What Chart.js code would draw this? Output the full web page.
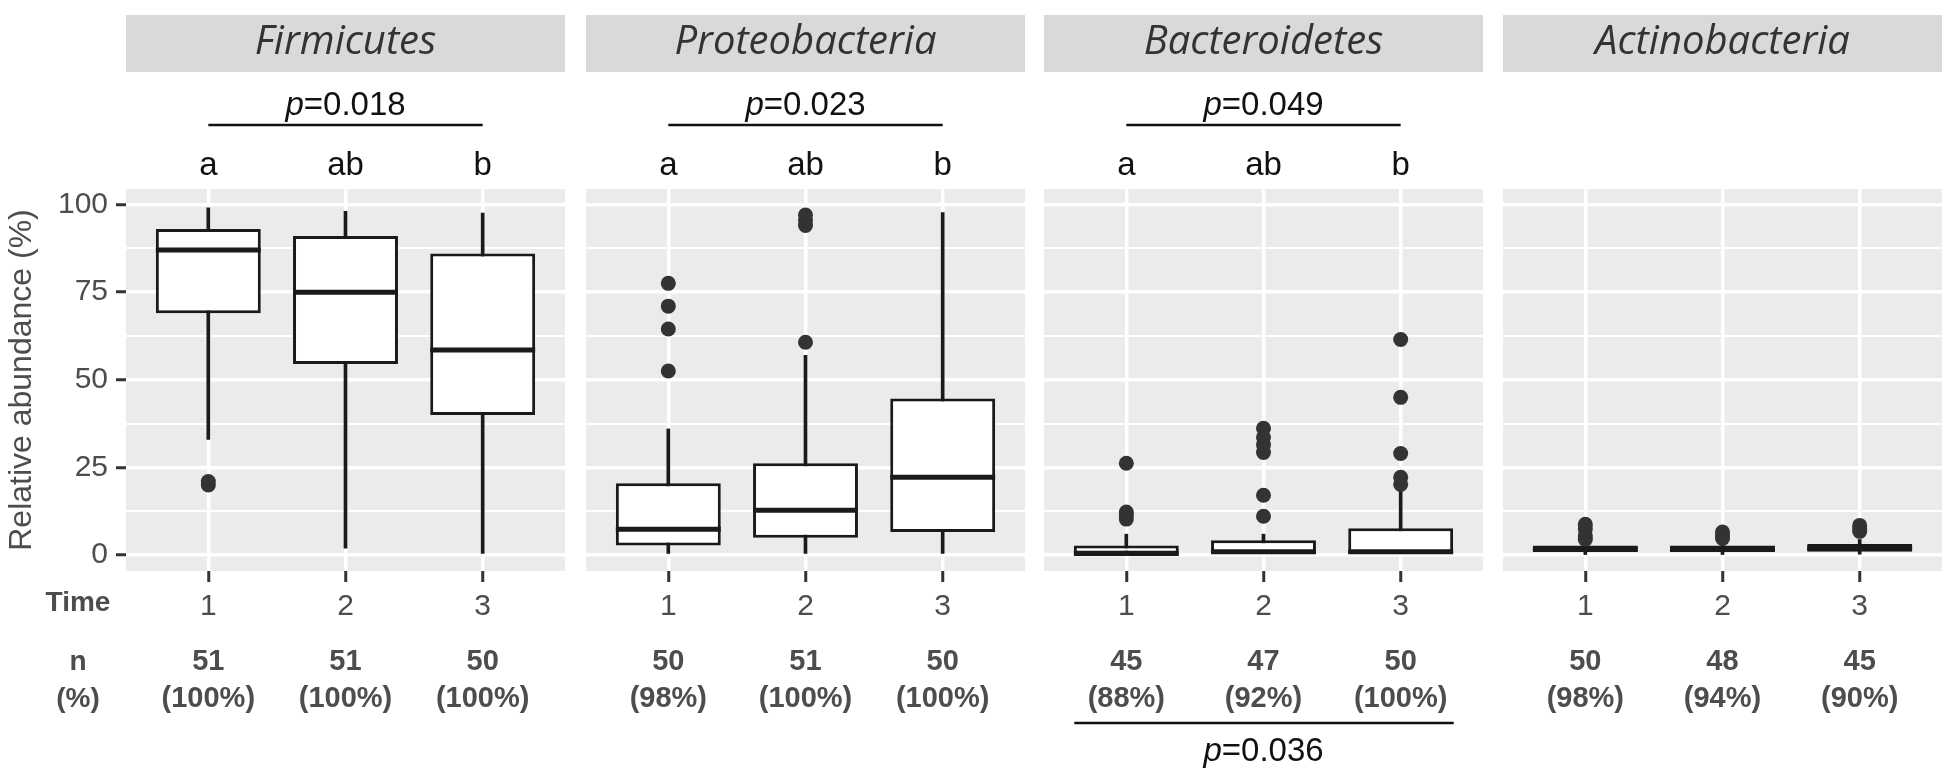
<!DOCTYPE html>
<html>
<head>
<meta charset="utf-8">
<script src="https://cdn.jsdelivr.net/npm/chart.js@4.4.1/dist/chart.umd.min.js"></script>
<style>
  body { margin: 0; background: #fff; }
  #wrap { position: relative; width: 1950px; height: 782px; overflow: hidden; }
  #wrap canvas { position: absolute; top: 0; }
</style>
</head>
<body>
<div id="wrap"></div>
<script>
// Daten
const phyla = ['Firmicutes', 'Proteobacteria', 'Bacteroidetes', 'Actinobacteria'];
const timeLabels = ['1', '2', '3'];
const yTicks = [0, 25, 50, 75, 100];

// pro Zeitpunkt: [unterer Whisker, Q1, Median, Q3, oberer Whisker]
const firmicutesBox = [[33, 69, 87, 93, 99], [2, 54.5, 75, 91, 98], [0, 40, 58.5, 86, 97.5]];
const proteobacteriaBox = [[0.5, 2.8, 7.4, 20.5, 36], [0.5, 5, 12.8, 26.2, 57], [0, 6.6, 22.2, 44.7, 97.7]];
const bacteroidetesBox = [[0, 0, 0.5, 2.8, 6], [0, 0, 1, 4.3, 6], [0, 0, 1, 7.7, 19.5]];
const actinobacteriaBox = [[0.2, 0.9, 1.8, 2.8, 3.5], [0.2, 0.9, 1.8, 2.8, 3.5], [0.3, 1, 2, 3.2, 4.5]];

const firmicutesOutliers = [[20, 21], [], []];
const proteobacteriaOutliers = [[52.5, 64.5, 71, 77.5], [60.7, 94, 95.5, 97], []];
const bacteroidetesOutliers = [[10.3, 11.5, 12.3, 26.2], [11.1, 17.1, 29.3, 31.5, 33.6, 36.2], [20.2, 22.2, 29, 45, 61.5]];
const actinobacteriaOutliers = [[4.5, 5.5, 7.5, 8.8], [4.8, 5.5, 6.6], [6.8, 7.5, 8.5]];

const nCounts = [[51, 51, 50], [50, 51, 50], [45, 47, 50], [50, 48, 45]];
const nPercents = [[100, 100, 100], [98, 100, 100], [88, 92, 100], [98, 94, 90]];
const groupLetters = [['a', 'ab', 'b'], ['a', 'ab', 'b'], ['a', 'ab', 'b'], null];
const pTop = ['0.018', '0.023', '0.049', null];
const pBottom = [null, null, '0.036', null];

const boxes = [firmicutesBox, proteobacteriaBox, bacteroidetesBox, actinobacteriaBox];
const outliers = [firmicutesOutliers, proteobacteriaOutliers, bacteroidetesOutliers, actinobacteriaOutliers];

// Layout
const SANS = "'Liberation Sans', Arial, sans-serif";
const panelLeft = [126, 586, 1044, 1503];
const panelWidth = 439;
const H = 782;
const plotTop = 189, plotBottom = 571;

Chart.defaults.font.family = SANS;

function drawP(ctx, text, cx, cy, size) {
    ctx.textBaseline = 'middle';
    ctx.textAlign = 'left';
    ctx.font = `italic ${size}px ${SANS}`;
    const pw = ctx.measureText('p').width;
    ctx.font = `${size}px ${SANS}`;
    const rw = ctx.measureText('=' + text).width;
    const x0 = cx - (pw + rw) / 2;
    ctx.font = `italic ${size}px ${SANS}`;
    ctx.fillText('p', x0, cy);
    ctx.font = `${size}px ${SANS}`;
    ctx.fillText('=' + text, x0 + pw, cy);
}

// Panel-Beschriftung, Hintergrund und Mediane
function panelPlugin(i) {
    return {
        id: 'panel' + i,
        beforeDraw(chart) {
            const a = chart.chartArea, ctx = chart.ctx;
            ctx.save();
            ctx.fillStyle = '#ebebeb';
            ctx.fillRect(a.left, a.top, a.right - a.left, a.bottom - a.top);
            ctx.restore();
        },
        afterDatasetsDraw(chart) {
            const ctx = chart.ctx, y = chart.scales.y;
            const meta = chart.getDatasetMeta(1);
            ctx.save();
            ctx.strokeStyle = '#1a1a1a';
            ctx.lineWidth = 5;
            boxes[i].forEach((b, k) => {
                const el = meta.data[k];
                const py = y.getPixelForValue(b[2]);
                ctx.beginPath();
                ctx.moveTo(el.x - el.width / 2, py);
                ctx.lineTo(el.x + el.width / 2, py);
                ctx.stroke();
            });
            ctx.restore();
        },
        afterDraw(chart) {
            const a = chart.chartArea, ctx = chart.ctx, x = chart.scales.x;
            ctx.save();
            // Streifen
            ctx.fillStyle = '#d9d9d9';
            ctx.fillRect(a.left, 15, a.right - a.left, 57);
            ctx.fillStyle = '#333';
            ctx.font = `italic 40px 'Open Sans', ${SANS}`;
            ctx.textAlign = 'center';
            ctx.textBaseline = 'middle';
            ctx.fillText(phyla[i], (a.left + a.right) / 2, 43);

            const x1 = x.getPixelForValue(1), x2 = x.getPixelForValue(2), x3 = x.getPixelForValue(3);
            ctx.fillStyle = '#111';
            ctx.strokeStyle = '#111';
            ctx.lineWidth = 2.5;
            if (pTop[i]) {
                drawP(ctx, pTop[i], x2, 106, 33);
                ctx.beginPath();
                ctx.moveTo(x1, 125);
                ctx.lineTo(x3, 125);
                ctx.stroke();
            }
            if (groupLetters[i]) {
                ctx.font = `33px ${SANS}`;
                ctx.textAlign = 'center';
                groupLetters[i].forEach((l, k) => ctx.fillText(l, x.getPixelForValue(k + 1), 166));
            }
            // n (%)
            ctx.fillStyle = '#4d4d4d';
            ctx.font = `bold 29px ${SANS}`;
            ctx.textAlign = 'center';
            ctx.textBaseline = 'middle';
            nCounts[i].forEach((n, k) => {
                const px = x.getPixelForValue(k + 1);
                ctx.fillText(String(n), px, 662);
                ctx.fillText('(' + nPercents[i][k] + '%)', px, 699);
            });
            if (i === 0) {
                ctx.font = `bold 28px ${SANS}`;
                ctx.fillText('Time', 78, 603);
                ctx.fillText('n', 78, 662);
                ctx.fillText('(%)', 78, 699);
            }
            if (pBottom[i]) {
                ctx.fillStyle = '#111';
                ctx.beginPath();
                ctx.moveTo(x1 - 52, 723);
                ctx.lineTo(x3 + 53, 723);
                ctx.stroke();
                drawP(ctx, pBottom[i], x2, 752, 33);
            }
            ctx.restore();
        }
    };
}

function makePanel(i) {
    const first = i === 0;
    const padL = first ? 0 : 20;
    const padR = 20;
    const left = panelLeft[i] - (first ? panelLeft[i] : padL);
    const yWidth = first ? panelLeft[i] : 0;
    const W = yWidth + padL + panelWidth + padR;

    const canvas = document.createElement('canvas');
    canvas.width = W;
    canvas.height = H;
    canvas.style.left = left + 'px';
    canvas.style.width = W + 'px';
    canvas.style.height = H + 'px';
    document.getElementById('wrap').appendChild(canvas);

    const b = boxes[i];
    const pts = [];
    outliers[i].forEach((list, k) => list.forEach(v => pts.push({ x: k + 1, y: v })));

    new Chart(canvas.getContext('2d'), {
        type: 'bar',
        data: {
            datasets: [
                {
                    type: 'scatter',
                    data: pts,
                    order: 0,
                    pointRadius: 7.5,
                    pointBackgroundColor: '#333',
                    pointBorderWidth: 0,
                    pointBorderColor: '#333'
                },
                {
                    data: b.map((v, k) => ({ x: k + 1, y: [v[1], v[3]] })),
                    order: 1,
                    grouped: false,
                    backgroundColor: '#ffffff',
                    borderColor: '#1a1a1a',
                    borderWidth: 3,
                    borderSkipped: false,
                    categoryPercentage: 0.8,
                    barPercentage: 0.956
                },
                {
                    data: b.map((v, k) => ({ x: k + 1, y: [v[0], v[4]] })),
                    order: 2,
                    grouped: false,
                    backgroundColor: '#1a1a1a',
                    borderWidth: 0,
                    barThickness: 3
                }
            ]
        },
        options: {
            responsive: false,
            devicePixelRatio: 1,
            animation: false,
            layout: { padding: { top: plotTop, bottom: 0, left: padL, right: padR } },
            plugins: { legend: { display: false }, tooltip: { enabled: false } },
            scales: {
                x: {
                    type: 'linear',
                    min: 0.4,
                    max: 3.6,
                    offset: false,
                    afterBuildTicks: (s) => { s.ticks = [1, 2, 3].map(v => ({ value: v })); },
                    afterFit: (s) => { s.height = H - plotBottom; },
                    border: { display: false },
                    grid: { offset: false, color: '#ffffff', lineWidth: 3.5, tickColor: '#333', tickWidth: 3, tickLength: 11 },
                    ticks: {
                        font: { size: 30 },
                        color: '#4d4d4d',
                        padding: 7,
                        maxRotation: 0,
                        callback: (v, idx) => timeLabels[idx]
                    }
                },
                y: {
                    min: -4.5,
                    max: 104.4,
                    afterBuildTicks: (s) => {
                        const t = [];
                        for (let k = 0; k < yTicks.length; k++) {
                            t.push({ value: yTicks[k] });
                            if (k < yTicks.length - 1) t.push({ value: (yTicks[k] + yTicks[k + 1]) / 2 });
                        }
                        s.ticks = t;
                    },
                    afterFit: (s) => { s.width = yWidth; },
                    border: { display: false },
                    grid: {
                        color: '#ffffff',
                        lineWidth: (c) => (c.tick && yTicks.includes(c.tick.value)) ? 3.5 : 2,
                        drawTicks: first,
                        tickColor: (c) => (c.tick && yTicks.includes(c.tick.value)) ? '#333' : 'rgba(0,0,0,0)',
                        tickWidth: 3,
                        tickLength: 10
                    },
                    ticks: {
                        display: first,
                        font: { size: 30 },
                        color: '#4d4d4d',
                        padding: 8,
                        callback: (v) => yTicks.includes(v) ? String(v) : ''
                    },
                    title: {
                        display: first,
                        text: 'Relative abundance (%)',
                        font: { size: 32 },
                        color: '#4d4d4d',
                        padding: { top: 3, bottom: 0 }
                    }
                }
            }
        },
        plugins: [panelPlugin(i)]
    });
}

phyla.forEach((p, i) => makePanel(i));
</script>
</body>
</html>
